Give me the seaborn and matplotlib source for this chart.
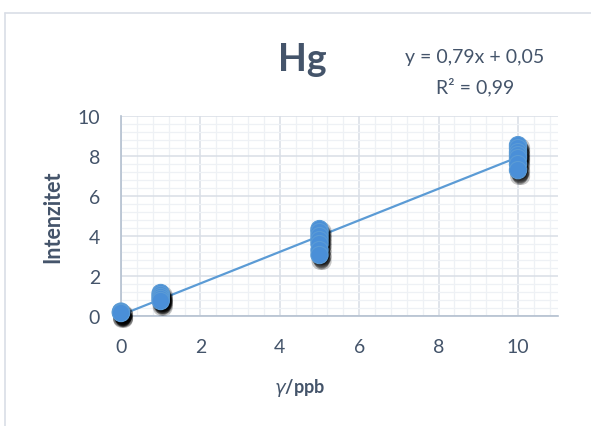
import numpy as np
import pandas as pd
import matplotlib
matplotlib.use("Agg")
import matplotlib.pyplot as plt
import matplotlib.patheffects as pe
from matplotlib.ticker import MultipleLocator
from matplotlib.lines import Line2D
import seaborn as sns

# measured points (concentration in ppb, intensity)
conc = [0, 0, 0,
        1, 1, 1, 1, 1,
        5, 5, 5, 5, 5, 5, 5,
        10, 10, 10, 10, 10, 10, 10]
intensity = [0.22, 0.18, 0.15,
             1.15, 1.05, 0.95, 0.85, 0.75,
             4.35, 4.2, 4.0, 3.8, 3.6, 3.3, 3.05,
             8.55, 8.4, 8.2, 8.05, 7.9, 7.6, 7.3]

# trendline from the chart
slope = 0.79
intercept = 0.05
fit_range = [0, 10]
eq_line1 = "y = 0,79x + 0,05"
eq_line2 = "R² = 0,99"

x_ticks = [0, 2, 4, 6, 8, 10]
y_ticks = [0, 2, 4, 6, 8, 10]

sns.set_style("white")
plt.rcParams['font.family'] = ['Lato', 'DejaVu Sans']
plt.rcParams['mathtext.fontset'] = 'dejavusans'

txt_col = "#44546A"
blue = "#4A8FD8"

df = pd.DataFrame({'conc': conc, 'intensity': intensity})
fit_df = pd.DataFrame({'x': fit_range, 'y': [slope * v + intercept for v in fit_range]})

fig = plt.figure(figsize=(5.91, 4.27), dpi=100)
ax = fig.add_axes([0.2047, 0.2576, 0.739, 0.468])

sns.lineplot(data=fit_df, x='x', y='y', ax=ax, color="#5B9BD5", linewidth=1.6, zorder=3)
sns.scatterplot(data=df, x='conc', y='intensity', ax=ax, s=155, color=blue,
                edgecolor="#5B9BD5", linewidth=0.8, zorder=4, legend=False)

# soft shadow under the markers (stack of faint offset copies)
shadow = []
for dx, dy in [(0.5, -1.5), (2.5, -1.5), (0.5, -4.5), (2.5, -4.5), (1.5, -3), (1.5, -2.5), (1.5, -3.5)]:
    shadow.append(pe.SimplePatchShadow(offset=(dx, dy), shadow_rgbFace='black', alpha=0.22))
for coll in ax.collections:
    coll.set_path_effects(shadow + [pe.Normal()])
    coll.set_clip_on(False)

ax.set_xlim(0, 11)
ax.set_ylim(0, 10)
ax.set_xticks(x_ticks)
ax.set_yticks(y_ticks)
ax.xaxis.set_minor_locator(MultipleLocator(0.4))
ax.yaxis.set_minor_locator(MultipleLocator(0.4))
ax.grid(which='major', color="#D9DEE6", linewidth=1.1)
ax.grid(which='minor', color="#EEF1F5", linewidth=0.9)
ax.set_axisbelow(True)
for s in ['top', 'right']:
    ax.spines[s].set_visible(False)
for s in ['left', 'bottom']:
    ax.spines[s].set_color("#B4C0D0")
    ax.spines[s].set_linewidth(1.2)

ax.tick_params(axis='both', which='both', length=0, labelsize=14, labelcolor=txt_col)
ax.tick_params(axis='x', pad=16)
ax.tick_params(axis='y', pad=15)

ax.set_xlabel("")
ax.set_ylabel("")
fig.text(300 / 591, 1 - 388 / 427, r"$\gamma$/ppb", fontsize=13, fontweight='bold',
         color=txt_col, ha='center', va='center')
fig.text(53 / 591, 1 - 217 / 427, "Intenzitet", fontsize=15.5, fontweight='bold',
         color=txt_col, ha='center', va='center', rotation=90)

fig.text(302 / 591, 1 - 60 / 427, "Hg", fontsize=27, fontweight='bold', color=txt_col,
         ha='center', va='center')
fig.text(475 / 591, 1 - 58 / 427, eq_line1, fontsize=14, color=txt_col,
         ha='center', va='center')
fig.text(475 / 591, 1 - 87 / 427, eq_line2, fontsize=14, color=txt_col,
         ha='center', va='center')

# outer chart frame
fc = "#D9DEE6"
fig.add_artist(Line2D([4.5 / 591, 4.5 / 591], [0, 1 - 13.5 / 427], color=fc, linewidth=1.2))
fig.add_artist(Line2D([4.5 / 591, 1], [1 - 13.5 / 427, 1 - 13.5 / 427], color=fc, linewidth=1.2))

fig.savefig("out.png", dpi=100)
